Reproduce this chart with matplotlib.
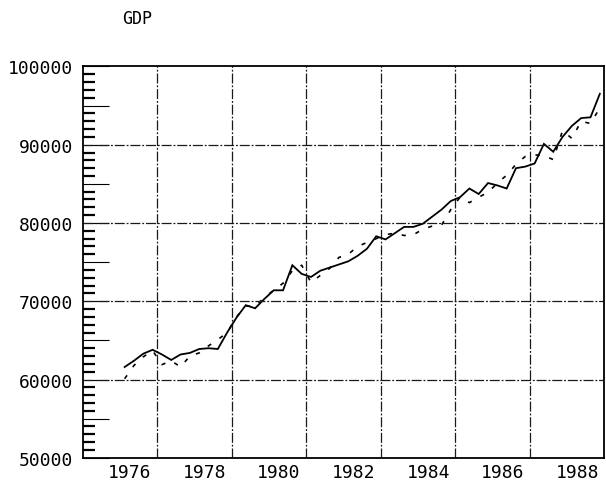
import numpy as np
import matplotlib
matplotlib.use('Agg')
import matplotlib.pyplot as plt
from matplotlib import transforms

# quarterly data, 1976Q1 .. 1988Q4
years = list(range(1976, 1989))
actualGDP = [61600, 62400, 63300, 63800, 63200, 62500, 63200, 63400,
	63900, 64000, 63900, 66000, 67900, 69500, 69100, 70300,
	71400, 71400, 74600, 73500, 73100, 73900, 74300, 74700,
	75100, 75800, 76700, 78300, 77900, 78700, 79500, 79500,
	79900, 80800, 81700, 82800, 83300, 84400, 83700, 85100,
	84800, 84400, 87000, 87200, 87600, 90100, 89100, 91000,
	92400, 93400, 93500, 96500]
fittedGDP = [60100, 61800, 62900, 63700, 61900, 62400, 61600, 63000,
	63400, 64300, 65100, 66000, 68000, 69400, 69300, 70500,
	71400, 72300, 73900, 74600, 72400, 73300, 74200, 75600,
	76000, 77000, 77500, 78000, 78500, 78700, 78400, 78500,
	79200, 79600, 79700, 81700, 83300, 82600, 83300, 83900,
	85100, 86100, 87500, 88500, 88700, 88600, 88100, 91800,
	90800, 93000, 92700, 94700]
xLabels = ['1976', '1978', '1980', '1982', '1984', '1986', '1988']
yLabels = [50000, 60000, 70000, 80000, 90000, 100000]

MONO = 'DejaVu Sans Mono'
GRID = dict(color='#1a1a1a', lw=0.9, linestyle=(0, (8, 1.5, 1.5, 1.5)))


def draw():
	fig = plt.figure(figsize=(6.06, 4.85), dpi=100)
	ax = fig.add_axes([0.1365, 0.054, 0.861, 0.807])

	t = np.array([y + (q - 0.5) / 4 for y in years for q in range(1, 5)])
	ax.plot(t, actualGDP, color='black', lw=1.3, solid_joinstyle='miter')
	ax.plot(t, fittedGDP, color='black', lw=1.2, linestyle=(0, (2.5, 6)))

	ax.set_xlim(1975, 1989)
	ax.set_ylim(50000, 100000)

	# x axis: a gridline at the end of each labelled year, label sits to its left
	xPos = [int(s) + 1 for s in xLabels]
	ax.set_xticks(xPos)
	ax.set_xticklabels(xLabels, family=MONO, fontsize=13, ha='right')
	ax.tick_params(axis='x', length=0, pad=4)
	shift = transforms.ScaledTranslation(-4 / 72, 0, fig.dpi_scale_trans)
	for lab in ax.get_xticklabels():
		lab.set_transform(lab.get_transform() + shift)
	ax.grid(True, axis='x', **GRID)

	# y axis: labels every 10000, long ticks every 5000, short ticks every 1000
	ax.set_yticks(np.arange(50000, 100001, 5000))
	ax.set_yticklabels([str(v) if v in yLabels else '' for v in range(50000, 100001, 5000)],
		family=MONO, fontsize=13)
	ax.set_yticks(np.arange(50000, 100001, 1000), minor=True)
	ax.tick_params(axis='y', which='major', direction='in', length=19, width=0.8, pad=7)
	ax.tick_params(axis='y', which='minor', direction='in', length=8.5, width=1.6)
	for v in yLabels[1:-1]:
		ax.axhline(v, **GRID)

	for s in ax.spines.values():
		s.set_linewidth(1.3)

	fig.text(137 / 606, 1 - 19 / 485, 'GDP', family=MONO, fontsize=12,
		ha='center', va='center')
	fig.savefig('out.png', dpi=100)


if __name__ == '__main__':
	draw()
